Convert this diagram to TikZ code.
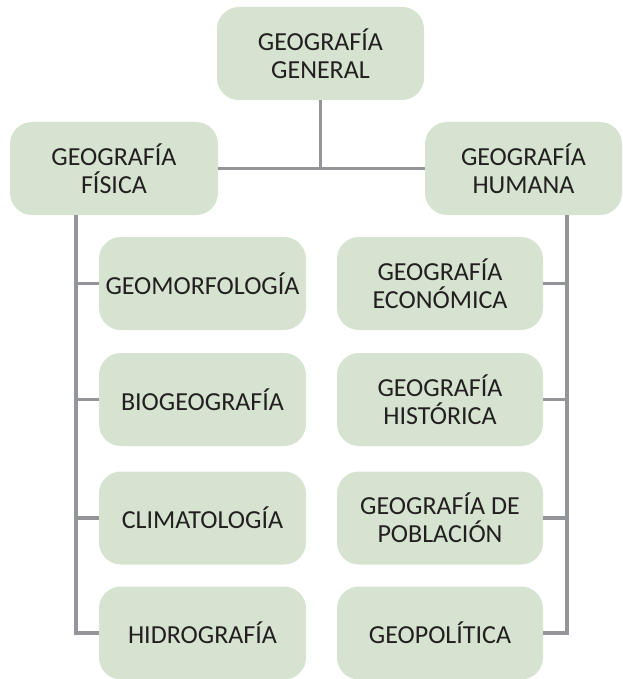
\documentclass[tikz,border=0pt]{standalone}
\usepackage{fontspec}
\setmainfont{Carlito}
\definecolor{boxfill}{HTML}{D5E3D0}
\definecolor{linegray}{HTML}{939598}
\definecolor{txt}{HTML}{231F20}
\begin{document}
\begin{tikzpicture}[x=1pt,y=-1pt,
  box/.style={rectangle, rounded corners=22pt, fill=boxfill, draw=none,
    minimum height=93pt, inner sep=0pt, align=center, text=txt,
    font=\fontsize{26}{28}\selectfont},
  conn/.style={draw=linegray, line width=3.5pt}]
\useasboundingbox (0,0) rectangle (622,679);
\node[box, minimum width=207pt] (gen) at (320.5,53.5) {GEOGRAFÍA\\GENERAL};
\node[box, minimum width=208pt] (fis) at (114,168.5) {GEOGRAFÍA\\FÍSICA};
\node[box, minimum width=197pt] (hum) at (523.5,168.5) {GEOGRAFÍA\\HUMANA};
\node[box, minimum width=207pt] (geo) at (202.5,283.5) {GEOMORFOLOGÍA};
\node[box, minimum width=207pt] (bio) at (202.5,399.5) {BIOGEOGRAFÍA};
\node[box, minimum width=207pt] (cli) at (202.5,518) {CLIMATOLOGÍA};
\node[box, minimum width=207pt] (hid) at (202.5,633) {HIDROGRAFÍA};
\node[box, minimum width=206pt] (eco) at (440,283.5) {GEOGRAFÍA\\ECONÓMICA};
\node[box, minimum width=206pt] (his) at (440,399.5) {GEOGRAFÍA\\HISTÓRICA};
\node[box, minimum width=206pt] (pob) at (440,518) {GEOGRAFÍA DE\\POBLACIÓN};
\node[box, minimum width=206pt] (pol) at (440,633) {GEOPOLÍTICA};
\coordinate (lx) at (76,0);
\coordinate (rx) at (567,0);
\draw[conn] (fis.east) -- (hum.west);
\draw[conn] (gen.south) -- (gen.south |- fis.east);
\draw[conn] (lx |- fis.south) -- (lx |- hid.west) -- (hid.west);
\draw[conn] (lx |- geo.west) -- (geo.west);
\draw[conn] (lx |- bio.west) -- (bio.west);
\draw[conn] (lx |- cli.west) -- (cli.west);
\draw[conn] (rx |- hum.south) -- (rx |- pol.east) -- (pol.east);
\draw[conn] (rx |- eco.east) -- (eco.east);
\draw[conn] (rx |- his.east) -- (his.east);
\draw[conn] (rx |- pob.east) -- (pob.east);
\end{tikzpicture}
\end{document}
